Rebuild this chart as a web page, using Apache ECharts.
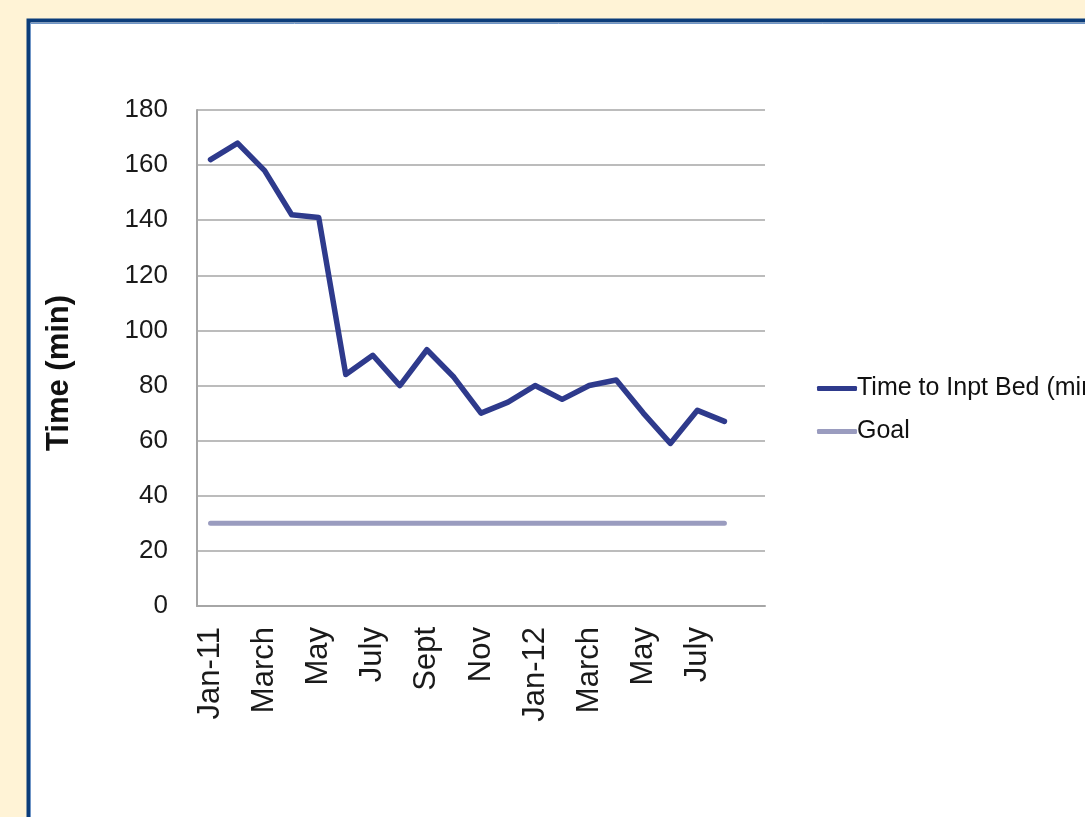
<!DOCTYPE html>
<html>
<head>
<meta charset="utf-8">
<script src="https://cdn.jsdelivr.net/npm/echarts@6/dist/echarts.min.js"></script>
<style>
html,body{margin:0;padding:0;background:#FFF3D6;}
#c{width:1085px;height:817px;}
</style>
</head>
<body>
<div id="c"></div>
<script>
var categories = ['Jan-11','Feb','March','April','May','June','July','Aug','Sept','Oct','Nov','Dec','Jan-12','Feb','March','April','May','June','July','Aug',''];
var timeToBed = [162,168,158,142,141,84,91,80,93,83,70,74,80,75,80,82,70,59,71,67];
var goal = [30,30,30,30,30,30,30,30,30,30,30,30,30,30,30,30,30,30,30,30];
var yTicks = [0,20,40,60,80,100,120,140,160,180];

var chart = echarts.init(document.getElementById('c'), null, {renderer:'canvas'});
var FONT = '"Liberation Sans", Arial, sans-serif';
chart.setOption({
  backgroundColor: '#FFF3D6',
  animation: false,
  graphic: [
    {type:'rect', z:-10, shape:{x:28.5, y:20.5, width:1200, height:1000}, style:{fill:'#ffffff', stroke:'#0B3C7A', lineWidth:4}},
    {type:'rect', z:-9, shape:{x:30.5, y:23.5, width:1200, height:1000}, style:{fill:'none', stroke:'#6F95C6', lineWidth:1}}
  ],
  grid: {left:197, right:320, top:110, bottom:211, containLabel:false},
  xAxis: {
    type:'category',
    data: categories,
    boundaryGap: true,
    axisLine: {show:true, lineStyle:{color:'#A6A6A6', width:2}},
    axisTick: {show:false},
    axisLabel: {
      rotate: 90, margin: 21, fontSize: 31, color:'#1a1a1a', fontFamily: FONT,
      interval: function(i){ return i % 2 === 0 && i < 20; }
    },
    splitLine: {show:false}
  },
  yAxis: {
    type:'value', min:0, max:180, interval:20,
    name: 'Time (min)', nameLocation:'middle', nameGap:122, nameRotate:90,
    nameTextStyle: {fontSize:31, fontWeight:'bold', color:'#111', fontFamily: FONT, padding:[0,30,0,0]},
    axisLine: {show:true, lineStyle:{color:'#A6A6A6', width:2}},
    axisTick: {show:false},
    axisLabel: {fontSize:26, color:'#1a1a1a', margin:29, fontFamily: FONT,
      formatter: function(v){ return yTicks.indexOf(v) >= 0 ? String(v) : ''; }},
    splitLine: {show:true, lineStyle:{color:'#A6A6A6', width:1.5}}
  },
  legend: {
    orient:'vertical', left:812, top:371, itemGap:18,
    itemWidth:40, itemHeight:5, icon:'roundRect',
    textStyle:{fontSize:25, color:'#111', fontFamily: FONT, padding:[0,0,0,-5]},
    data:['Time to Inpt Bed (min)','Goal']
  },
  series: [
    {name:'Time to Inpt Bed (min)', type:'line', data: timeToBed, symbol:'none',
     lineStyle:{color:'#2E3A8C', width:5.5, cap:'round', join:'round'}, itemStyle:{color:'#2E3A8C'}, z:3},
    {name:'Goal', type:'line', data: goal, symbol:'none',
     lineStyle:{color:'#9A9CBF', width:5, cap:'round'}, itemStyle:{color:'#9A9CBF'}, z:2}
  ]
});
</script>
</body>
</html>
